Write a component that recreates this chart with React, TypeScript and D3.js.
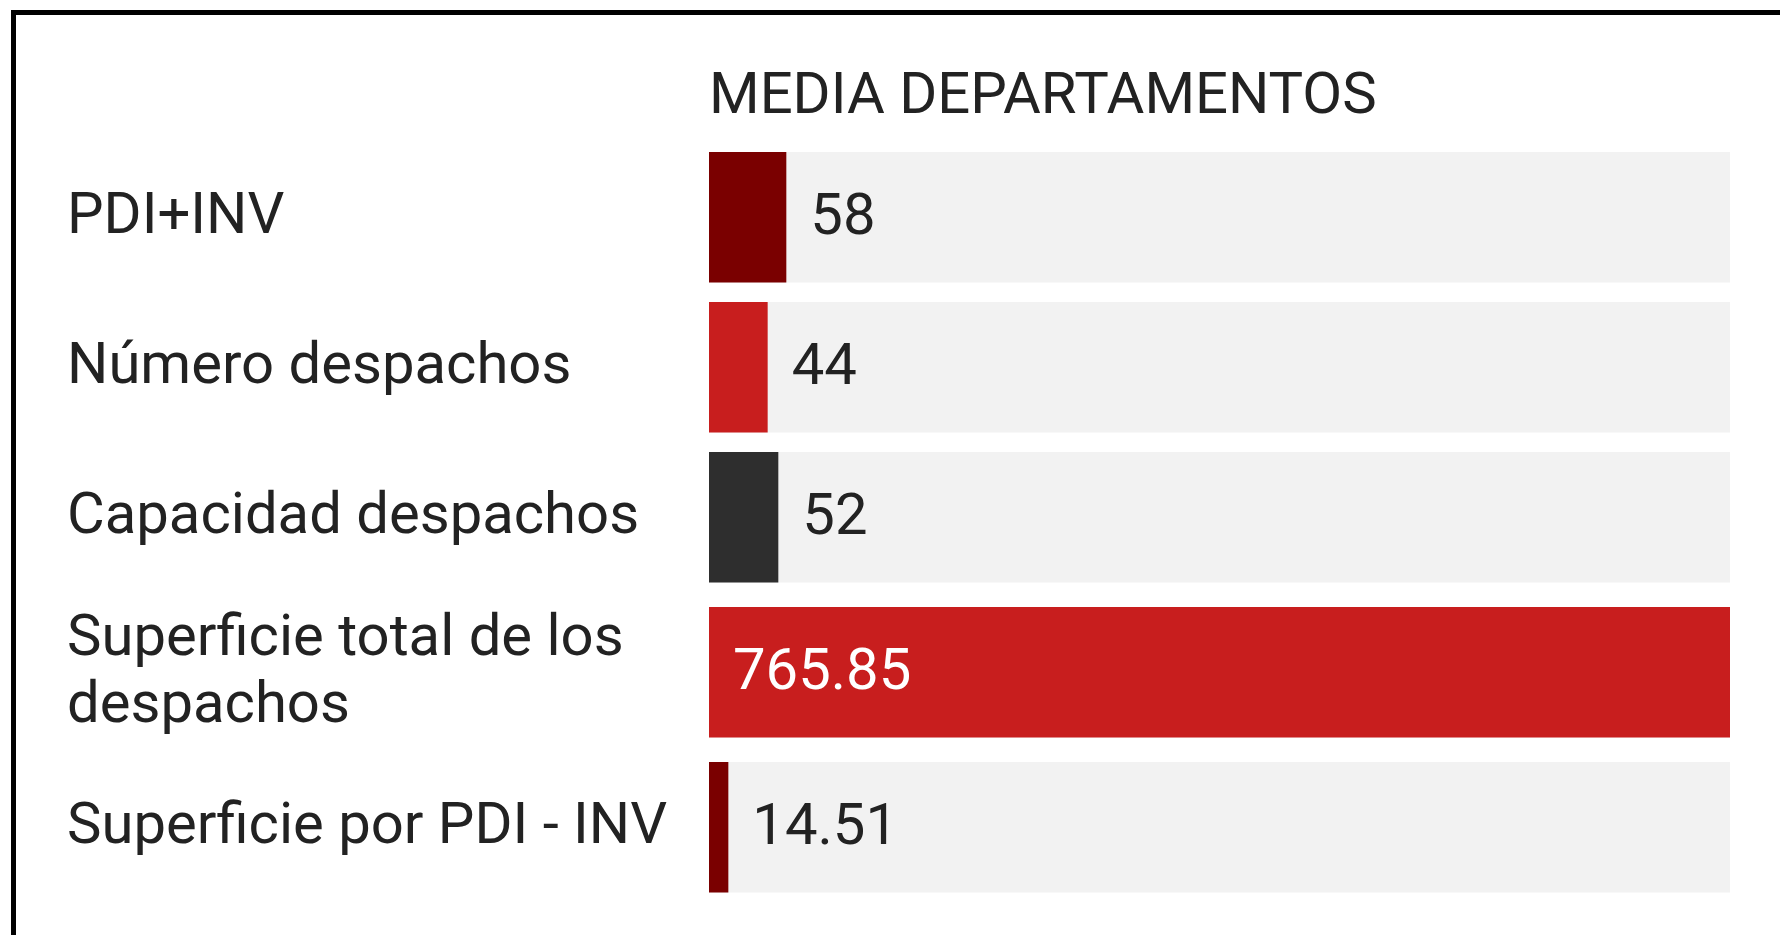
import React from "react";
import * as d3 from "d3";

const categories = [
  "PDI+INV",
  "Número despachos",
  "Capacidad despachos",
  "Superficie total de los despachos",
  "Superficie por PDI - INV",
];
const values = [58, 44, 52, 765.85, 14.51];
const valueLabels = ["58", "44", "52", "765.85", "14.51"];
const barColors = ["#7a0000", "#c81e1e", "#2e2e2e", "#c81e1e", "#7a0000"];
const title = "MEDIA DEPARTAMENTOS";

const W = 1780;
const H = 935;
const FONT = "Roboto, 'Noto Sans', sans-serif";
const FS = 58;
const LABEL_X = 67;
const LABEL_MAX_W = 620;
const BAR_X0 = 709;
const BAR_X1 = 1730;
const TOP = 152;
const BAR_H = 130.5;
const PITCH = 150;
const LINE_EXTRA = 10;
const LINE_H = 66.7;

function wrap(text: string, maxW: number): string[] {
  let ctx: CanvasRenderingContext2D | null = null;
  try {
    ctx = document.createElement("canvas").getContext("2d");
  } catch (e) {
    ctx = null;
  }
  const measure = (s: string) => {
    if (ctx) {
      ctx.font = `${FS}px Roboto`;
      return ctx.measureText(s).width;
    }
    return s.length * FS * 0.5;
  };
  const words = text.split(" ");
  const lines: string[] = [];
  let cur = "";
  for (const w of words) {
    const t = cur ? cur + " " + w : w;
    if (measure(t) > maxW && cur) {
      lines.push(cur);
      cur = w;
    } else cur = t;
  }
  if (cur) lines.push(cur);
  return lines;
}

export default function App() {
  const x = d3.scaleLinear().domain([0, d3.max(values) as number]).range([BAR_X0, BAR_X1]);
  const lines = categories.map((c) => wrap(c, LABEL_MAX_W));
  const areas = lines.map((l) => PITCH + LINE_EXTRA * (l.length - 1));
  const starts = areas.map((_, i) => TOP + d3.sum(areas.slice(0, i)));
  const rows = categories.map((c, i) => {
    const y = starts[i] + (areas[i] - PITCH) / 2;
    return { c, i, y, cy: y + BAR_H / 2, lines: lines[i] };
  });

  return (
    <svg
      width={W}
      height={H}
      style={{ position: "absolute", left: 0, top: 0, display: "block", background: "#fff" }}
      fontFamily={FONT}
    >
      <path d={`M13.5,${H + 10} L13.5,12.5 L${W + 10},12.5`} fill="none" stroke="#000" strokeWidth={5} />
      <text x={BAR_X0} y={112.5} fontSize={FS} fill="#222">
        {title}
      </text>
      {rows.map((r) => {
        const v = values[r.i];
        const xEnd = x(v);
        const inside = BAR_X1 - xEnd < 150;
        const n = r.lines.length;
        return (
          <g key={r.c}>
            <rect x={BAR_X0} y={r.y} width={BAR_X1 - BAR_X0} height={BAR_H} fill="#f2f2f2" />
            <rect x={BAR_X0} y={r.y} width={xEnd - BAR_X0} height={BAR_H} fill={barColors[r.i]} />
            <text
              x={inside ? BAR_X0 + 24 : xEnd + 24}
              y={r.cy + 16.5}
              fontSize={FS}
              fill={inside ? "#fff" : "#222"}
            >
              {valueLabels[r.i]}
            </text>
            {r.lines.map((ln, k) => (
              <text
                key={k}
                x={LABEL_X}
                y={r.cy + 16 + (k - (n - 1) / 2) * LINE_H}
                fontSize={FS}
                fill="#222"
              >
                {ln}
              </text>
            ))}
          </g>
        );
      })}
    </svg>
  );
}
